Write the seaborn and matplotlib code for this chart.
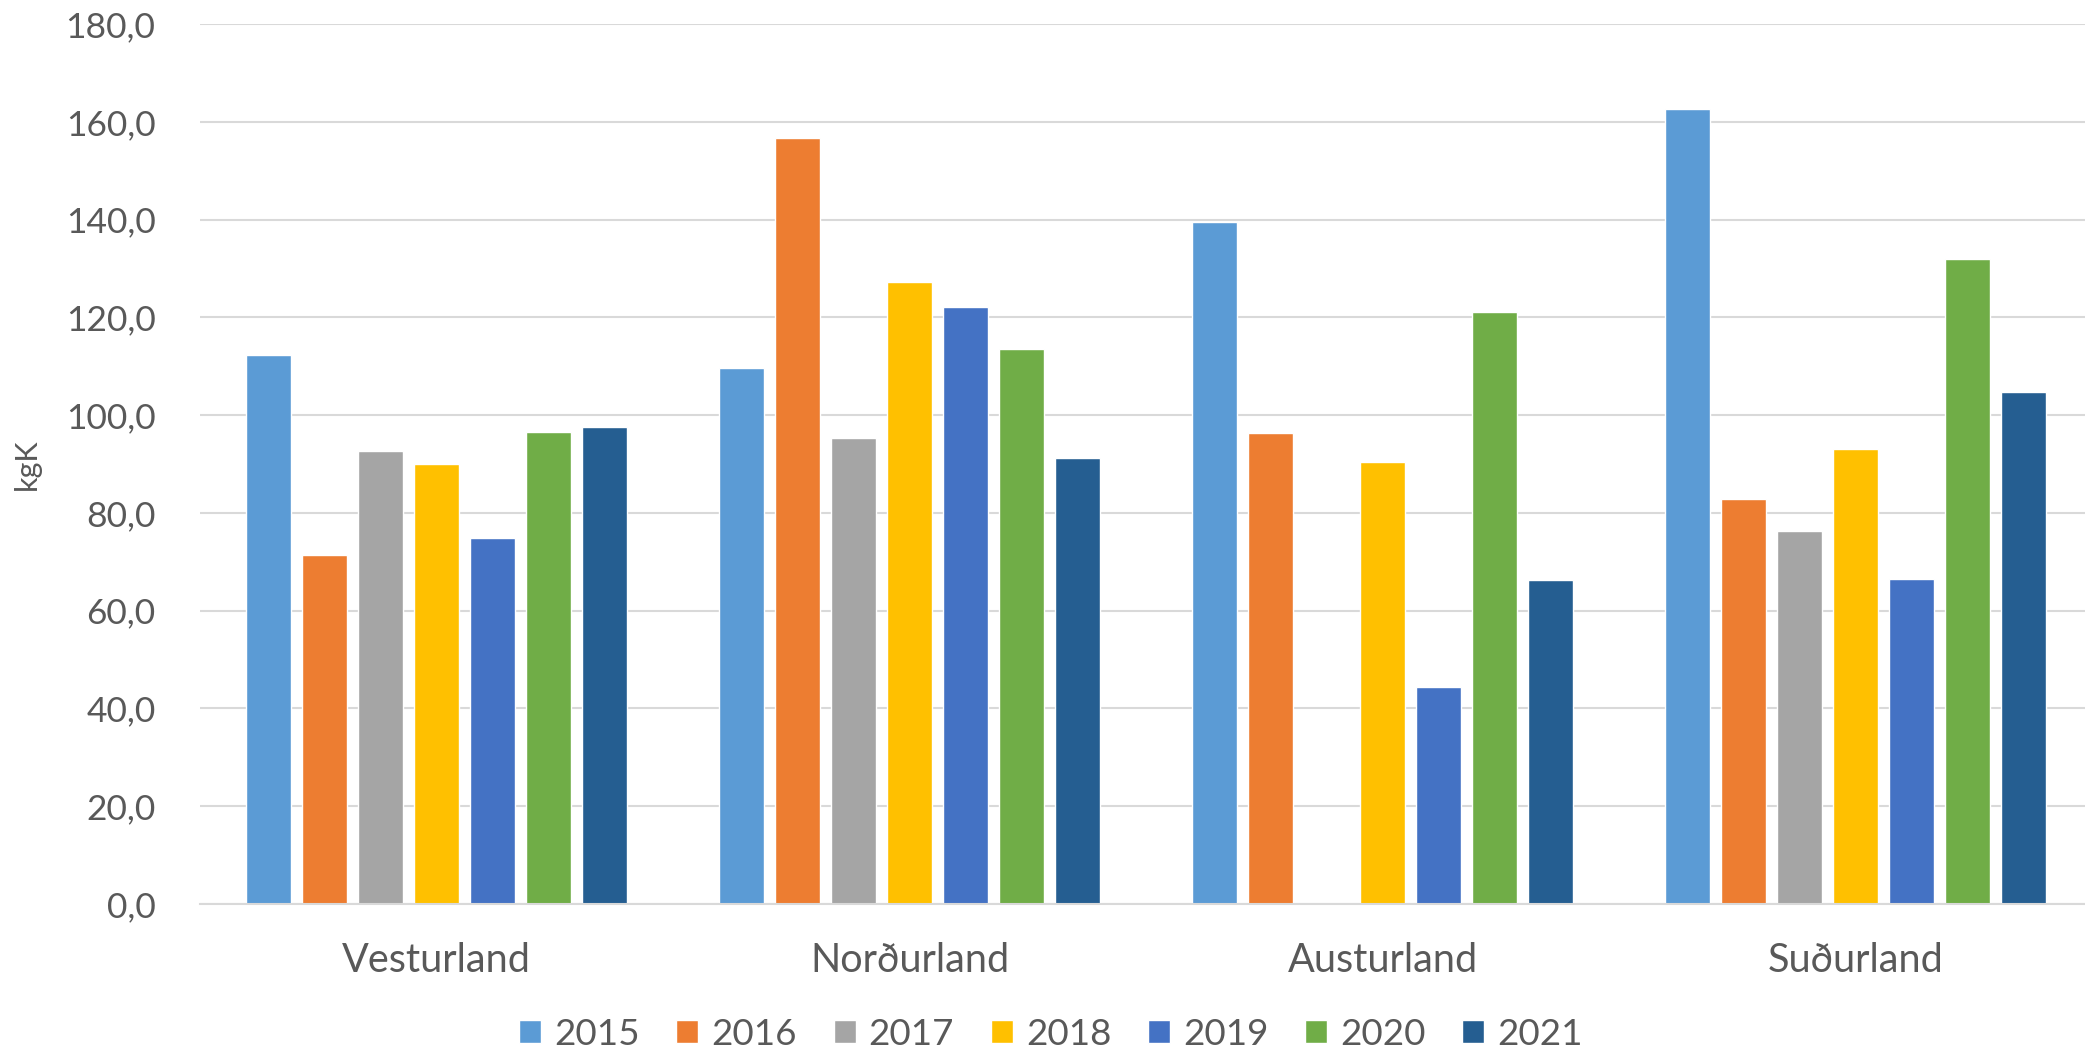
import numpy as np
import pandas as pd
import matplotlib
matplotlib.use("Agg")
import matplotlib.pyplot as plt
import seaborn as sns

# Data
regions = ["Vesturland", "Norðurland", "Austurland", "Suðurland"]
years = ["2015", "2016", "2017", "2018", "2019", "2020", "2021"]
y2015 = [112.2, 109.6, 139.6, 162.7]
y2016 = [71.4, 156.7, 96.3, 82.8]
y2017 = [92.6, 95.4, np.nan, 76.2]
y2018 = [89.9, 127.2, 90.4, 93.1]
y2019 = [74.8, 122.2, 44.3, 66.4]
y2020 = [96.6, 113.5, 121.0, 132.0]
y2021 = [97.6, 91.2, 66.3, 104.7]
colors = ["#5B9BD5", "#ED7D31", "#A5A5A5", "#FFC000", "#4472C4", "#70AD47", "#255E91"]

series = [y2015, y2016, y2017, y2018, y2019, y2020, y2021]
rows = []
for yr, vals in zip(years, series):
    for reg, v in zip(regions, vals):
        rows.append({"region": reg, "year": yr, "kgK": v})
df = pd.DataFrame(rows)

sns.set_style("white")
plt.rcParams["font.family"] = ["Lato", "DejaVu Sans"]
text_col = "#595959"

fig = plt.figure(figsize=(20.85, 10.53), dpi=100)
ax = fig.add_axes([0.0959, 0.1415, 0.9041, 0.8357])

sns.barplot(data=df, x="region", y="kgK", hue="year", order=regions,
            hue_order=years, palette=colors, width=0.83, gap=0.2,
            errorbar=None, saturation=1, ax=ax)

ax.set_ylim(0, 180)
ax.set_xlim(-0.5, 3.485)
ax.set_yticks(np.arange(0, 181, 20))
ax.set_yticklabels([f"{v:.1f}".replace(".", ",") for v in np.arange(0, 181, 20)])
ax.yaxis.grid(True, color="#D9D9D9", linewidth=1.5)
ax.set_axisbelow(True)
for s in ["top", "right", "left"]:
    ax.spines[s].set_visible(False)
ax.spines["bottom"].set_color("#D9D9D9")
ax.spines["bottom"].set_linewidth(1.5)
ax.tick_params(axis="y", length=0, pad=32, labelsize=25.5, labelcolor=text_col)
ax.tick_params(axis="x", length=0, pad=27, labelsize=28.5, labelcolor=text_col)
ax.set_xlabel("")
ax.set_ylabel("kgK", fontsize=22, color=text_col, labelpad=18)

ax.legend_.remove()
handles, labels = ax.get_legend_handles_labels()
fig.legend(handles, labels, loc="center", bbox_to_anchor=(0.504, 0.018), ncol=7,
           frameon=False, fontsize=26.5, handlelength=0.6, handleheight=0.6,
           handletextpad=0.35, columnspacing=1.0, labelcolor=text_col)

fig.savefig("out.png", dpi=100)
